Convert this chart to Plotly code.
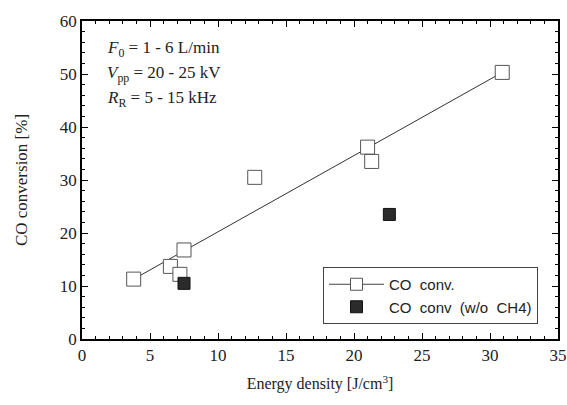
import plotly.graph_objects as go

# Data
energy_open = [3.8, 6.5, 7.2, 7.5, 12.7, 21.0, 21.3, 30.9]
conv_open = [11.3, 13.7, 12.2, 16.8, 30.5, 36.2, 33.5, 50.3]
energy_filled = [7.5, 22.6]
conv_filled = [10.5, 23.5]
fit_x = [3.8, 30.9]
fit_y = [11.3, 50.3]

SERIF = "Liberation Serif, Times New Roman, serif"
SANS = "Liberation Sans, Arial, sans-serif"

fig = go.Figure()
fig.add_trace(go.Scatter(
    x=fit_x, y=fit_y, mode="lines", line=dict(color="#333333", width=1),
    showlegend=False, hoverinfo="skip"))
fig.add_trace(go.Scatter(
    x=energy_open, y=conv_open, mode="markers",
    marker=dict(symbol="square", size=14, color="white",
                line=dict(color="#555555", width=1)),
    name="CO  conv.", showlegend=False))
fig.add_trace(go.Scatter(
    x=[None], y=[None], mode="lines+markers",
    line=dict(color="#444444", width=1),
    marker=dict(symbol="square", size=12, color="white",
                line=dict(color="#555555", width=1)),
    name="CO  conv."))
fig.add_trace(go.Scatter(
    x=energy_filled, y=conv_filled, mode="markers",
    marker=dict(symbol="square", size=12, color="#2b2b2b",
                line=dict(color="#111111", width=1)),
    name="CO  conv  (w/o  CH4)"))

axis_common = dict(
    showline=True, linecolor="black", linewidth=1.5, mirror="ticks",
    ticks="inside", ticklen=6, tickcolor="black", showgrid=False,
    zeroline=False, automargin=False,
    tickfont=dict(family=SERIF, size=17, color="#222"),
)
fig.update_xaxes(range=[0, 35], dtick=5, tick0=0,
                 minor=dict(dtick=1, ticks="inside", ticklen=3, tickcolor="black"),
                 title=dict(text="Energy density [J/cm<sup>3</sup>]",
                            font=dict(family=SERIF, size=16, color="#222"), standoff=14),
                 **axis_common)
fig.update_yaxes(range=[0, 60], dtick=10, tick0=0,
                 minor=dict(dtick=2, ticks="inside", ticklen=3, tickcolor="black"),
                 title=dict(text="CO conversion [%]",
                            font=dict(family=SERIF, size=17, color="#222"), standoff=28),
                 **axis_common)

ann_lines = ["<i>F</i><sub>0</sub> = 1 - 6 L/min",
             "<i>V</i><sub>pp</sub> = 20 - 25 kV",
             "<i>R</i><sub>R</sub> = 5 - 15 kHz"]
for i, t in enumerate(ann_lines):
    fig.add_annotation(text=t, xref="paper", yref="paper",
                       x=(105 - 82) / 476, y=(339 - (49 + 25 * i)) / 318,
                       xanchor="left", yanchor="middle", showarrow=False,
                       font=dict(family=SERIF, size=17, color="#222"))

fig.update_layout(
    width=567, height=405,
    margin=dict(l=82, r=9, t=21, b=66),
    paper_bgcolor="white", plot_bgcolor="white",
    legend=dict(x=(323 - 82) / 476, y=(339 - 267) / 318, xanchor="left", yanchor="top",
                bordercolor="#444", borderwidth=1, bgcolor="white",
                font=dict(family=SANS, size=15, color="#222"),
                tracegroupgap=4, itemwidth=55),
)

fig.write_html("out.html", config={"displayModeBar": False},
               post_script="document.body.style.margin='0';document.body.style.padding='0';")
